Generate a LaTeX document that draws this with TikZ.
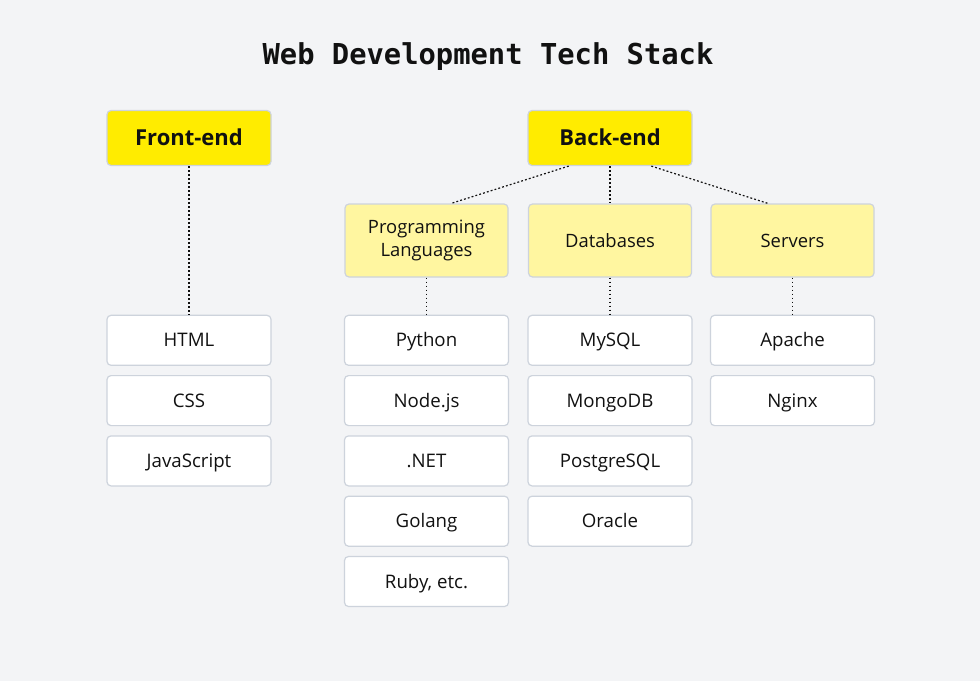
\documentclass[tikz,border=0pt]{standalone}
\usepackage{fontspec}
\setmainfont{Open Sans}
\newfontfamily\monofont{DejaVu Sans Mono}
\usetikzlibrary{positioning,calc}
\definecolor{bggray}{HTML}{F3F4F6}
\definecolor{edgegray}{HTML}{CDD3DC}
\definecolor{mainyellow}{HTML}{FFEC00}
\definecolor{softyellow}{HTML}{FFF6A0}
\definecolor{inkdark}{HTML}{111111}

\begin{document}
\begin{tikzpicture}[
    x=0.75pt, y=-0.75pt,
    box/.style={draw=edgegray, line width=0.9pt, rounded corners=3pt, text=inkdark, align=center},
    stackbox/.style={box, fill=mainyellow, minimum width=123pt, minimum height=41.25pt, text height=11.8pt, text depth=0pt, font=\fontsize{16.5}{19}\selectfont\bfseries},
    groupbox/.style={box, fill=softyellow, minimum width=122.25pt, minimum height=54.75pt, font=\fontsize{13.8}{17.25}\selectfont},
    itembox/.style={box, fill=white, minimum width=123pt, minimum height=37.5pt, text height=10pt, text depth=0pt, font=\fontsize{14}{16}\selectfont},
    link/.style={draw=inkdark, line width=0.9pt, dash pattern=on 1.4pt off 1.6pt}
]

% Background
\fill[bggray] (0,0) rectangle (980,681);

% Title
\node[font=\monofont\fontsize{21.6}{26}\selectfont\bfseries, text=inkdark] (title) at (488,57) {Web Development Tech Stack};

% Front-end
\node[stackbox] (front) at (189,138) {Front-end};
\foreach \name [count=\i] in {HTML,CSS,JavaScript} {
    \node[itembox] (fe\i) at (189, 280+\i*60.3) {\name};
}
\draw[link] (front.south) -- (fe1.north);

% Back-end
\node[stackbox] (back) at (610,138) {Back-end};

\node[groupbox] (lang) at (426.5,240.5) {Programming\\Languages};
\node[groupbox] (db) at (610,240.5) {Databases};
\node[groupbox] (srv) at (792.5,240.5) {Servers};

\draw[link] ($(back.south west)!0.25!(back.south east)$) -- ($(lang.north west)!0.65!(lang.north east)$);
\draw[link] (back.south) -- (db.north);
\draw[link] ($(back.south west)!0.75!(back.south east)$) -- ($(srv.north west)!0.35!(srv.north east)$);

% Languages
\foreach \name [count=\i] in {Python,Node.js,.NET,Golang,{Ruby, etc.}} {
    \node[itembox] (pl\i) at (426.5, 280+\i*60.3) {\name};
}
\draw[link] (lang.south) -- (pl1.north);

% Databases
\foreach \name [count=\i] in {MySQL,MongoDB,PostgreSQL,Oracle} {
    \node[itembox] (dbi\i) at (610, 280+\i*60.3) {\name};
}
\draw[link] (db.south) -- (dbi1.north);

% Servers
\foreach \name [count=\i] in {Apache,Nginx} {
    \node[itembox] (sv\i) at (792.5, 280+\i*60.3) {\name};
}
\draw[link] (srv.south) -- (sv1.north);

\end{tikzpicture}
\end{document}
